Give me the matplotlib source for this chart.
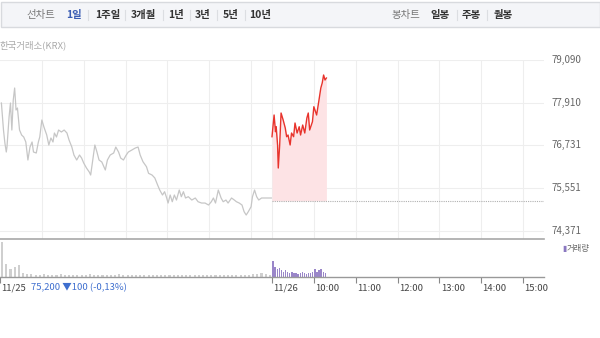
import matplotlib.pyplot as plt
from matplotlib.patches import Rectangle

plt.rcParams["font.family"] = ["Noto Sans CJK KR", "DejaVu Sans"]

# minutes since 11/25 09:00 (11/26 09:00 = 390)
prev_min = [2, 5, 7, 9, 10, 13, 15, 17, 19, 21, 23, 25, 28, 31, 34, 37, 40, 43, 46, 48, 52,
            55, 57, 60, 63, 67, 70, 73, 76, 78, 81, 84, 88, 92, 96, 99, 103, 106, 110, 114,
            117, 120, 124, 128, 130, 134, 136, 139, 142, 146, 151, 154, 158, 163, 166, 170,
            173, 177, 181, 184, 189, 194, 198, 201, 205, 210, 213, 218, 222, 226, 229, 233,
            236, 239, 241, 244, 247, 250, 253, 257, 260, 263, 266, 270, 275, 280, 284, 289,
            294, 299, 303, 306, 309, 313, 317, 320, 324, 327, 332, 336, 339, 343, 347, 350,
            353, 356, 360, 362, 365, 368, 371, 375, 380, 385, 389]
prev_price = [77901, 77155, 76796, 76547, 76685, 77514, 77901, 77155, 77984, 78316, 77708,
              77763, 77155, 77017, 76962, 76824, 76326, 76685, 76824, 76547, 76520, 76824,
              76962, 77432, 77238, 77017, 76741, 76934, 76824, 77072, 76962, 77155, 77100,
              77155, 77072, 76879, 76685, 76464, 76326, 76464, 76381, 76243, 76105, 75994,
              75911, 76464, 76741, 76547, 76326, 76271, 76050, 76326, 76464, 76520, 76685,
              76547, 76381, 76326, 76464, 76547, 76602, 76658, 76685, 76464, 76279, 76141,
              75958, 75911, 75829, 75635, 75497, 75359, 75450, 75276, 75137, 75359, 75173,
              75359, 75220, 75497, 75312, 75450, 75276, 75312, 75220, 75276, 75173, 75137,
              75137, 75082, 75173, 75276, 75137, 75497, 75276, 75173, 75220, 75137, 75276,
              75220, 75173, 75137, 75082, 74897, 74806, 74897, 75035, 75312, 75497, 75312,
              75220, 75276, 75276, 75276, 75276]

today_min = [390, 393, 395, 396, 398, 399, 401, 403, 406, 409, 411, 413, 416, 418, 421, 423,
             426, 429, 431, 434, 437, 440, 442, 444, 448, 450, 454, 457, 460, 462, 464, 466,
             468]
today_price = [76970, 77570, 77108, 77246, 76741, 76105, 76741, 77625, 77432, 77211, 76970,
               77017, 76741, 77072, 76970, 77349, 77072, 77246, 77017, 77293, 77072, 77487,
               77625, 77155, 77385, 77799, 77570, 77937, 78316, 78454, 78675, 78537, 78592]

prev_close = 75200
y_ticks = [74371, 75551, 76731, 77910, 79090]
y_labels = ["74,371", "75,551", "76,731", "77,910", "79,090"]

# volume, 6-minute buckets for 11/25, 3-minute buckets for 11/26
prev_vol = [32, 12, 7, 9, 11, 4, 3, 3, 2, 2, 3, 2, 2, 2, 3, 2, 2, 2, 2, 2, 2, 3, 2, 2, 2, 2,
            2, 2, 3, 2, 2, 2, 2, 2, 2, 2, 2, 2, 2, 2, 2, 2, 2, 2, 2, 2, 2, 2, 2, 2, 2, 2, 2, 2,
            2, 2, 2, 2, 2, 2, 3, 3, 4, 3, 2]
today_vol = [15, 9, 7, 8, 6, 5, 6, 5, 4, 5, 4, 4, 3, 4, 5, 4, 3, 4, 4, 5, 7, 5, 6, 7, 5, 4]

tick_pos = [0, 390, 450, 510, 570, 630, 690, 750]
tick_labels = ["11/25", "11/26", "10:00", "11:00", "12:00", "13:00", "14:00", "15:00"]

W, H = 600, 338
fig = plt.figure(figsize=(6, 3.38), dpi=100)


def px(x0, y0, x1, y1):
    return [x0 / W, 1 - y1 / H, (x1 - x0) / W, (y1 - y0) / H]


# top tab bar
bar = fig.add_axes(px(0, 0, 600, 60))
bar.set_xlim(0, 600)
bar.set_ylim(60, 0)
bar.axis("off")
bar.add_patch(Rectangle((0.5, 2), 599, 25, facecolor="#f4f5f8", edgecolor="#d8dade", lw=1))
tabs = [("선차트", 41, "#777777", "normal"), ("1일", 74, "#3b5db3", "bold"),
        ("1주일", 108, "#333333", "bold"), ("3개월", 143, "#333333", "bold"),
        ("1년", 176, "#333333", "bold"), ("3년", 203, "#333333", "bold"),
        ("5년", 231, "#333333", "bold"), ("10년", 260, "#333333", "bold"),
        ("봉차트", 406, "#777777", "normal"), ("일봉", 440, "#333333", "bold"),
        ("주봉", 471, "#333333", "bold"), ("월봉", 503, "#333333", "bold")]
for t, x, c, w in tabs:
    bar.text(x, 15, t, ha="center", va="center", fontsize=7.5, color=c, fontweight=w)
for x in [88, 125, 163, 190, 217, 245, 457, 487]:
    bar.plot([x, x], [10, 20], color="#dcdee2", lw=0.8)
bar.text(0, 45, "한국거래소(KRX)", ha="left", va="center", fontsize=6.8, color="#aaaaaa")

# price panel
ax = fig.add_axes(px(0, 60, 544, 239))
ax.set_xlim(0, 780)
ax.set_ylim(74143, 79090)
for y in y_ticks:
    ax.axhline(y, color="#eeeeee", lw=0.8, zorder=0)
for x in list(range(60, 390, 60)) + list(range(390, 780, 60)):
    ax.axvline(x, color="#eeeeee", lw=0.8, zorder=0)
ax.plot(prev_min, prev_price, color="#c6c6c6", lw=0.9)
ax.fill_between(today_min, today_price, prev_close, color="#fde3e5", lw=0)
ax.plot(today_min, today_price, color="#e8332c", lw=1)
ax.plot([390, 780], [prev_close, prev_close], color="#b0b0b0", lw=0.8, ls=(0, (1, 1)))
for s in ["top", "left", "right"]:
    ax.spines[s].set_visible(False)
ax.spines["bottom"].set_color("#a8a8a8")
ax.spines["bottom"].set_linewidth(1.2)
ax.set_xticks([])
ax.set_yticks([])
for y, lab in zip(y_ticks, y_labels):
    ax.text(791, y, lab, ha="left", va="center", fontsize=7, color="#666666", clip_on=False)

# volume panel
vx = fig.add_axes(px(0, 240, 544, 277))
vx.set_xlim(0, 780)
vx.set_ylim(0, 34)
vx.bar([i * 6 + 3 for i in range(len(prev_vol))], prev_vol, width=3, color="#cfcfcf", lw=0)
vx.bar([390 + i * 3 + 1.5 for i in range(len(today_vol))], today_vol, width=2,
       color="#9a86c9", lw=0)
for s in ["top", "left", "right"]:
    vx.spines[s].set_visible(False)
vx.spines["bottom"].set_color("#999999")
vx.spines["bottom"].set_linewidth(1)
vx.set_yticks([])
vx.set_xticks(tick_pos)
vx.set_xticklabels([])
vx.tick_params(axis="x", length=4, width=0.8, color="#888888", direction="out")
for x, lab in zip(tick_pos, tick_labels):
    vx.text(x + 2, -6, lab, ha="left", va="top", fontsize=6.8, color="#444444", clip_on=False)
vx.text(44, -6, "75,200 ▼100 (-0,13%)", ha="left", va="top", fontsize=6.8,
        color="#3f6fcf", clip_on=False)

fig.text(562 / W, 1 - 249 / H, "▮", fontsize=5.5, color="#8a78c0", ha="left", va="center")
fig.text(567 / W, 1 - 249 / H, "거래량", fontsize=6, color="#666666", ha="left", va="center")

fig.savefig("out.png", dpi=100)
